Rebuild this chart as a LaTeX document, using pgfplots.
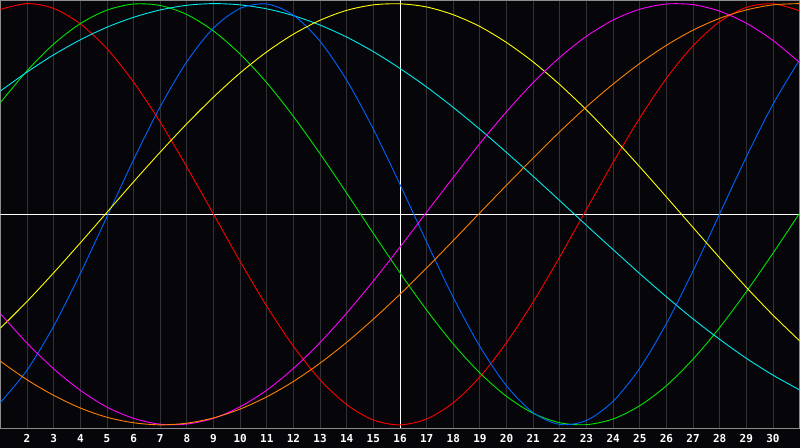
\documentclass[border=0pt]{standalone}
\usepackage{pgfplots}
\pgfplotsset{compat=1.18}
\usepackage{fontspec}
\newfontfamily\tickfont{DejaVu Sans Mono}
\definecolor{bg}{RGB}{5,5,10}
\definecolor{gridc}{RGB}{50,50,54}
\definecolor{framec}{RGB}{140,140,140}
\definecolor{cred}{RGB}{255,0,0}
\definecolor{cgreen}{RGB}{0,230,0}
\definecolor{ccyan}{RGB}{0,235,235}
\definecolor{cblue}{RGB}{0,100,255}
\definecolor{cyellow}{RGB}{255,255,0}
\definecolor{cmagenta}{RGB}{255,0,255}
\definecolor{corange}{RGB}{255,128,0}
\begin{document}
\begin{tikzpicture}
\fill[bg] (0pt,-20pt) rectangle (800pt,428pt);
\begin{axis}[
  at={(0pt,0pt)}, anchor=south west,
  scale only axis, width=800pt, height=428pt,
  xmin=1, xmax=31, ymin=-1.015, ymax=1.015,
  axis background/.style={fill=bg},
  axis line style={draw=framec, line width=0.8pt},
  xtick={2,...,30}, ytick=\empty,
  major tick length=0pt,
  /pgf/number format/assume math mode=true,
  xmajorgrids, major grid style={draw=gridc, line width=0.9pt},
  xticklabel style={font=\tickfont\bfseries\fontsize{11}{11}\selectfont, text=white, anchor=base, yshift=-14.5pt},
  every axis plot/.append style={line width=0.9pt, smooth, no markers},
]
\draw[white, line width=1pt] (axis cs:1,0) -- (axis cs:31,0);
\draw[white, line width=1pt] (axis cs:16,-1.015) -- (axis cs:16,1.015);
% red
\addplot[cred] coordinates {(1,0.972)(2,1.000)(3,0.977)(4,0.904)(5,0.786)(6,0.627)(7,0.437)(8,0.224)(9,0.000)(10,-0.224)(11,-0.437)(12,-0.627)(13,-0.786)(14,-0.904)(15,-0.977)(16,-1.000)(17,-0.972)(18,-0.895)(19,-0.772)(20,-0.609)(21,-0.416)(22,-0.202)(23,0.023)(24,0.246)(25,0.457)(26,0.645)(27,0.800)(28,0.914)(29,0.982)(30,0.999)(31,0.966)};
% green
\addplot[cgreen] coordinates {(1,0.530)(2,0.681)(3,0.808)(4,0.905)(5,0.969)(6,0.998)(7,0.991)(8,0.948)(9,0.870)(10,0.760)(11,0.624)(12,0.464)(13,0.287)(14,0.100)(15,-0.091)(16,-0.278)(17,-0.455)(18,-0.616)(19,-0.754)(20,-0.865)(21,-0.945)(22,-0.990)(23,-0.999)(24,-0.972)(25,-0.909)(26,-0.814)(27,-0.688)(28,-0.538)(29,-0.368)(30,-0.185)(31,0.005)};
% cyan
\addplot[ccyan] coordinates {(1,0.585)(2,0.675)(3,0.757)(4,0.828)(5,0.888)(6,0.935)(7,0.970)(8,0.992)(9,1.000)(10,0.994)(11,0.975)(12,0.943)(13,0.898)(14,0.841)(15,0.772)(16,0.692)(17,0.604)(18,0.507)(19,0.403)(20,0.293)(21,0.180)(22,0.064)(23,-0.053)(24,-0.168)(25,-0.282)(26,-0.392)(27,-0.497)(28,-0.594)(29,-0.684)(30,-0.764)(31,-0.834)};
% blue
\addplot[cblue] coordinates {(1,-0.894)(2,-0.740)(3,-0.531)(4,-0.281)(5,-0.012)(6,0.259)(7,0.511)(8,0.724)(9,0.884)(10,0.977)(11,0.998)(12,0.945)(13,0.821)(14,0.636)(15,0.404)(16,0.141)(17,-0.132)(18,-0.395)(19,-0.628)(20,-0.815)(21,-0.942)(22,-0.998)(23,-0.979)(24,-0.888)(25,-0.731)(26,-0.519)(27,-0.269)(28,0.002)(29,0.272)(30,0.522)(31,0.733)};
% yellow
\addplot[cyellow] coordinates {(1,-0.541)(2,-0.414)(3,-0.278)(4,-0.136)(5,0.009)(6,0.154)(7,0.295)(8,0.430)(9,0.556)(10,0.671)(11,0.771)(12,0.855)(13,0.921)(14,0.968)(15,0.994)(16,0.999)(17,0.984)(18,0.947)(19,0.891)(20,0.815)(21,0.723)(22,0.615)(23,0.495)(24,0.364)(25,0.225)(26,0.082)(27,-0.063)(28,-0.207)(29,-0.347)(30,-0.479)(31,-0.601)};
% magenta
\addplot[cmagenta] coordinates {(1,-0.472)(2,-0.612)(3,-0.734)(4,-0.836)(5,-0.916)(6,-0.969)(7,-0.997)(8,-0.996)(9,-0.969)(10,-0.914)(11,-0.835)(12,-0.732)(13,-0.609)(14,-0.469)(15,-0.317)(16,-0.156)(17,0.010)(18,0.175)(19,0.336)(20,0.487)(21,0.625)(22,0.745)(23,0.845)(24,0.922)(25,0.973)(26,0.998)(27,0.995)(28,0.964)(29,0.907)(30,0.825)(31,0.720)};
% orange
\addplot[corange] coordinates {(1,-0.698)(2,-0.786)(3,-0.860)(4,-0.920)(5,-0.964)(6,-0.990)(7,-1.000)(8,-0.992)(9,-0.967)(10,-0.925)(11,-0.867)(12,-0.794)(13,-0.707)(14,-0.608)(15,-0.498)(16,-0.380)(17,-0.255)(18,-0.125)(19,0.007)(20,0.138)(21,0.267)(22,0.392)(23,0.510)(24,0.618)(25,0.716)(26,0.802)(27,0.874)(28,0.930)(29,0.970)(30,0.994)(31,1.000)};
\end{axis}
\end{tikzpicture}
\end{document}
